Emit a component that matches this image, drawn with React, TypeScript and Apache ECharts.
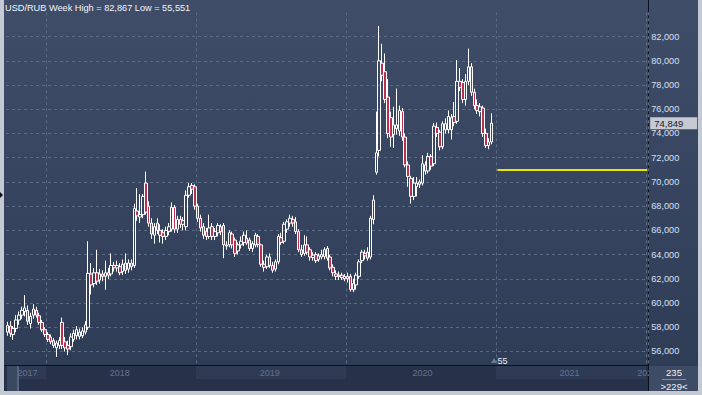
import React, { useEffect, useRef } from "react";
import * as echarts from "echarts";

const TITLE = "USD/RUB Week High = 82,867 Low = 55,551";
const START_DATE = "2017-09-25";
const TOTAL_WEEKS = 223;
const yearStartIdx = [14, 66, 118, 170, 222];
const yearLabelIdx = [7, 39, 91, 144, 195, 222];
const yearLabels = ["2017", "2018", "2019", "2020", "2021", "2022"];
const lastPrice = 74.849;
const levelValue = 71.04;
const levelFrom = 170;
const levelTo = 222;
const barsTotal = "235";
const barsVisible = ">229<";
const cursorLabel = "55";

// weekly candles: open, close, low, high
const opens = [
  57.6, 58.1, 57.4, 57.9, 58.6, 59.0, 59.3, 59.4, 58.3, 59.0, 59.4, 58.95, 58.4, 57.8, 57.4, 57.2, 56.9, 56.3, 56.5, 58.4,
  56.8, 56.5, 56.4, 57.0, 57.3, 57.6, 57.3, 57.6, 58.0, 62.4, 61.6, 62.5, 61.9, 62.4, 62.2, 62.5, 62.4, 63.1, 62.9, 63.0,
  62.6, 63.3, 62.8, 63.3, 63.1, 67.6, 67.1, 67.3, 69.9, 68.0, 66.6, 65.6, 66.6, 66.0, 65.8, 65.5, 65.9, 66.1, 67.9, 66.1,
  66.9, 66.5, 66.3, 68.9, 69.7, 69.6, 68.0, 67.0, 66.3, 65.9, 65.5, 66.3, 65.5, 65.8, 66.3, 66.4, 64.8, 64.8, 65.7, 65.2,
  64.3, 64.8, 65.0, 65.35, 65.2, 64.5, 64.8, 65.5, 64.8, 63.2, 63.0, 63.8, 63.1, 62.8, 63.4, 65.4, 65.1, 66.1, 66.6, 66.9,
  66.7, 65.9, 64.4, 64.1, 64.8, 64.4, 63.75, 64.0, 63.6, 63.8, 63.85, 64.5, 63.8, 62.95, 62.4, 62.2, 62.3, 62.0, 62.2, 62.2,
  61.1, 61.5, 62.2, 63.5, 64.1, 64.2, 63.8, 66.9, 70.8, 72.6, 79.8, 79.1, 77.0, 75.3, 73.9, 74.4, 74.2, 75.8, 73.7, 71.4,
  70.3, 68.8, 69.6, 70.0, 69.9, 71.4, 70.9, 72.1, 71.5, 74.5, 74.1, 72.9, 74.3, 74.3, 74.3, 75.4, 75.0, 78.3, 78.2, 76.8,
  78.3, 79.5, 77.4, 76.3, 75.8, 76.1, 74.0, 73.0, 73.3,
];
const closes = [
  58.15, 57.5, 57.9, 58.6, 59.0, 59.4, 59.6, 58.5, 58.9, 59.5, 59.0, 58.4, 57.8, 57.4, 57.0, 56.8, 56.5, 56.7, 56.9, 56.5,
  56.3, 56.2, 57.2, 57.5, 57.8, 57.25, 57.7, 58.2, 62.45, 61.5, 62.5, 61.8, 62.4, 62.2, 62.5, 62.3, 63.1, 62.9, 63.1, 62.5,
  63.2, 62.7, 63.3, 63.0, 67.8, 67.2, 67.3, 68.8, 67.5, 66.6, 65.7, 66.3, 66.0, 65.6, 65.5, 66.0, 66.3, 67.9, 66.1, 66.9,
  66.5, 66.8, 68.9, 69.6, 69.4, 68.0, 67.0, 66.2, 65.6, 65.5, 66.2, 65.5, 65.9, 66.4, 65.9, 64.8, 64.7, 65.8, 64.8, 64.1,
  64.8, 65.1, 65.6, 64.95, 64.5, 64.9, 65.6, 64.85, 63.2, 62.95, 63.8, 63.1, 62.7, 63.4, 65.5, 65.0, 66.5, 66.7, 67.0, 66.6,
  65.9, 64.4, 64.0, 64.8, 64.2, 63.8, 63.95, 63.5, 63.9, 64.0, 64.4, 63.7, 62.9, 62.5, 62.2, 62.3, 62.1, 62.2, 62.0, 61.1,
  61.6, 62.3, 63.4, 64.2, 63.9, 63.7, 67.0, 68.5, 72.4, 80.0, 78.8, 76.8, 74.0, 73.7, 74.7, 74.7, 75.9, 73.7, 71.4, 70.45,
  68.8, 69.9, 69.9, 69.8, 71.5, 70.9, 72.1, 71.3, 74.6, 74.0, 72.9, 74.8, 74.8, 75.4, 75.3, 74.9, 78.3, 77.8, 76.8, 78.3,
  79.5, 77.4, 76.3, 75.9, 76.2, 74.0, 73.0, 73.3, 74.849,
];
const lows = [
  57.3, 57.2, 56.95, 57.6, 58.2, 58.7, 58.9, 58.2, 57.9, 58.7, 58.8, 58.2, 57.6, 57.2, 56.8, 56.6, 56.3, 55.551, 56.2, 56.2,
  56.0, 55.7, 56.1, 56.8, 57.0, 57.0, 57.1, 57.4, 57.8, 60.7, 61.3, 61.5, 61.6, 61.8, 61.1, 62.0, 62.2, 62.6, 62.6, 62.3,
  62.3, 62.4, 62.5, 62.7, 62.9, 66.8, 66.6, 67.0, 67.3, 66.3, 65.3, 64.9, 65.7, 65.0, 64.9, 65.2, 65.6, 65.9, 65.8, 65.8,
  66.2, 66.0, 66.0, 68.7, 69.0, 67.7, 66.7, 65.9, 65.3, 65.2, 65.3, 65.2, 65.2, 65.5, 65.6, 63.7, 64.4, 64.6, 64.5, 63.8,
  64.0, 64.5, 64.7, 64.8, 64.3, 64.2, 64.6, 64.6, 63.0, 62.6, 62.8, 62.9, 62.5, 62.6, 63.2, 64.8, 64.9, 65.8, 66.3, 66.3,
  65.7, 64.2, 63.8, 63.9, 64.0, 63.5, 63.5, 63.3, 63.4, 63.6, 63.6, 63.5, 62.7, 62.2, 61.9, 61.9, 61.9, 61.8, 61.7, 60.95,
  60.9, 61.1, 62.0, 63.3, 63.6, 63.5, 63.6, 66.5, 70.6, 72.1, 78.3, 76.5, 73.6, 72.9, 72.8, 73.9, 73.8, 73.4, 71.2, 69.6,
  68.2, 68.5, 68.8, 69.5, 69.7, 70.6, 70.7, 71.0, 71.3, 73.7, 72.6, 72.7, 74.0, 74.0, 73.5, 74.6, 74.8, 77.5, 76.5, 76.3,
  78.0, 77.1, 76.0, 75.6, 75.4, 73.7, 72.8, 72.7, 73.1,
];
const highs = [
  58.45, 58.5, 58.1, 59.0, 59.3, 59.7, 60.65, 59.8, 59.2, 59.9, 59.7, 59.2, 58.6, 58.0, 57.6, 57.4, 57.1, 56.9, 57.2, 58.8,
  57.2, 56.9, 57.5, 57.8, 58.1, 57.9, 58.0, 58.5, 65.1, 63.3, 62.9, 64.4, 62.8, 62.7, 63.5, 62.9, 64.1, 63.4, 63.5, 63.3,
  63.6, 64.1, 63.6, 63.6, 68.2, 69.5, 69.0, 69.0, 70.85, 68.4, 67.0, 66.6, 67.0, 66.5, 66.1, 66.3, 66.6, 68.3, 68.1, 67.2,
  67.2, 67.1, 69.3, 69.9, 69.9, 69.8, 68.2, 67.3, 66.6, 66.2, 67.3, 66.6, 66.2, 66.6, 66.5, 66.6, 65.1, 66.0, 65.9, 65.4,
  65.0, 65.5, 65.9, 66.0, 65.4, 65.1, 65.8, 65.7, 64.9, 63.5, 64.0, 64.1, 63.4, 63.6, 65.7, 65.8, 66.7, 66.9, 67.3, 67.2,
  67.1, 66.1, 64.8, 65.6, 65.5, 64.6, 64.2, 64.2, 64.1, 64.4, 64.6, 64.7, 64.0, 63.2, 62.7, 62.6, 62.5, 62.4, 62.5, 62.4,
  62.0, 62.5, 63.6, 64.4, 64.4, 64.6, 67.2, 68.9, 75.8, 82.867, 81.4, 80.6, 78.5, 75.8, 76.2, 77.7, 76.3, 76.1, 74.0, 71.7,
  70.5, 70.4, 70.4, 70.2, 72.2, 71.7, 72.4, 72.3, 74.85, 74.9, 74.3, 75.0, 75.25, 75.9, 75.6, 76.6, 80.06, 79.4, 78.5, 78.9,
  81.0, 79.8, 77.7, 76.8, 76.5, 76.3, 74.4, 73.6, 75.66,
];

const FONT = "'Liberation Sans', Arial, sans-serif";

function weekCategories(): string[] {
  const out: string[] = [];
  const d0 = new Date(START_DATE + "T00:00:00Z");
  for (let i = 0; i < TOTAL_WEEKS; i++) {
    const d = new Date(d0.getTime() + i * 7 * 86400000);
    out.push(d.toISOString().slice(0, 10));
  }
  return out;
}

const fmt = (v: number) => v.toFixed(3).replace(".", ",");

export default function App() {
  const ref = useRef<HTMLDivElement>(null);
  useEffect(() => {
    if (!ref.current) return;
    const chart = echarts.init(ref.current, undefined, { renderer: "svg" });
    const categories = weekCategories();
    const candles = opens.map((o, i) => [o, closes[i], lows[i], highs[i]]);
    const option: any = {
      animation: false,
      backgroundColor: "transparent",
      textStyle: { fontFamily: FONT },
      title: {
        text: TITLE,
        left: 5,
        top: 3,
        padding: 0,
        textStyle: { color: "#f2f5fa", fontSize: 9.2, fontWeight: "normal", fontFamily: FONT },
      },
      grid: { left: 6, right: 53.3, top: 12.3, bottom: 30, show: false },
      xAxis: {
        type: "category",
        data: categories,
        boundaryGap: true,
        axisLine: { show: false },
        axisTick: { show: false },
        axisLabel: {
          interval: (i: number) => yearLabelIdx.includes(i),
          formatter: (_v: string, i: number) => yearLabels[yearLabelIdx.indexOf(i)] ?? "",
          color: "#62718c",
          fontSize: 9,
          fontFamily: FONT,
          margin: 3,
        },
        splitLine: {
          show: true,
          interval: (i: number) => yearStartIdx.includes(i),
          lineStyle: { color: "#5a6984", type: [3, 3], width: 1 },
        },
      },
      yAxis: {
        type: "value",
        position: "right",
        min: 54.885,
        max: 84,
        minInterval: 2,
        maxInterval: 2,
        axisLine: { show: false },
        axisTick: { show: false },
        axisLabel: {
          color: "#d6e0f2",
          fontSize: 9.2,
          fontFamily: FONT,
          margin: 2.5,
          showMinLabel: false,
          showMaxLabel: false,
          formatter: (v: number) => fmt(v),
        },
        splitLine: {
          show: true,
          showMinLine: false,
          showMaxLine: false,
          lineStyle: { color: "#5a6984", type: [3, 3], width: 1 },
        },
      },
      series: [
        {
          type: "candlestick",
          data: candles,
          barWidth: 3,
          z: 10,
          clip: false,
          itemStyle: {
            color: "transparent",
            color0: "#b8324f",
            borderColor: "#ffffff",
            borderColor0: "#ffffff",
            borderWidth: 1,
          },
          markLine: {
            silent: true,
            symbol: ["none", "none"],
            animation: false,
            data: [
              [
                {
                  coord: [levelFrom, levelValue],
                  lineStyle: { color: "#e6e600", width: 2, type: "solid" },
                  label: { show: false },
                },
                { coord: [levelTo, levelValue] },
              ],
              {
                yAxis: lastPrice,
                lineStyle: { color: "rgba(0,0,0,0)", width: 1, type: "solid" },
                label: {
                  show: true,
                  position: "end",
                  distance: 1.5,
                  formatter: () => fmt(lastPrice),
                  backgroundColor: "#c6cad2",
                  color: "#1a1a1a",
                  fontSize: 9.5,
                  fontFamily: FONT,
                  padding: [1, 4, 1, 4],
                  width: 39,
                  align: "left",
                },
              },
            ],
          },
        },
      ],
      graphic: [
        { type: "rect", z: 100, shape: { x: 649, y: 366, width: 49, height: 25 }, style: { fill: "#3e4b65" } },
        {
          type: "text", z: 101, x: 674, y: 372.5,
          style: { text: barsTotal, fill: "#eef2f8", font: `9.5px ${FONT}`, textAlign: "center", textVerticalAlign: "middle" },
        },
        { type: "line", z: 101, shape: { x1: 662, y1: 379.5, x2: 686, y2: 379.5 }, style: { stroke: "#7d8ba3", lineWidth: 1 } },
        {
          type: "text", z: 101, x: 674, y: 386,
          style: { text: barsVisible, fill: "#eef2f8", font: `9.5px ${FONT}`, textAlign: "center", textVerticalAlign: "middle" },
        },
        {
          type: "text", z: 101, x: 497.5, y: 360.5,
          style: { text: cursorLabel, fill: "#e8eef6", font: `9px ${FONT}`, textAlign: "left", textVerticalAlign: "middle" },
        },
        { type: "polygon", z: 101, shape: { points: [[491, 363], [494, 358], [497, 363]] }, style: { fill: "#6d7a90" } },
        { type: "polygon", z: 101, shape: { points: [[0, 192], [3, 195], [0, 198]] }, style: { fill: "#111111" } },
      ],
    };
    chart.setOption(option);
    return () => chart.dispose();
  }, []);

  const abs = (l: number, t: number, w: number, h: number, bg: string): React.CSSProperties => ({
    position: "absolute", left: l, top: t, width: w, height: h, background: bg,
  });

  return (
    <div style={{ position: "fixed", left: 0, top: 0, width: 702, height: 395, background: "#c3cad4", overflow: "hidden" }}>
      <div style={abs(4, 0, 694, 391, "linear-gradient(#3f4d69, #2e3b55)")} />
      <div style={abs(4, 366, 645, 25, "#27324a")} />
      <div style={abs(7, 366, 39, 13, "#2f3b55")} />
      <div style={abs(196, 366, 150, 13, "#2f3b55")} />
      <div style={abs(496, 366, 150, 13, "#2f3b55")} />
      <div style={abs(7, 366, 12, 25, "#3a4761")} />
      <div style={abs(17, 366, 2, 25, "#56647e")} />
      <div style={abs(648, 0, 1, 391, "#0d1118")} />
      <div style={abs(4, 365, 644, 1, "#0d1118")} />
      <div ref={ref} style={{ position: "absolute", left: 0, top: 0, width: 702, height: 395 }} />
    </div>
  );
}
